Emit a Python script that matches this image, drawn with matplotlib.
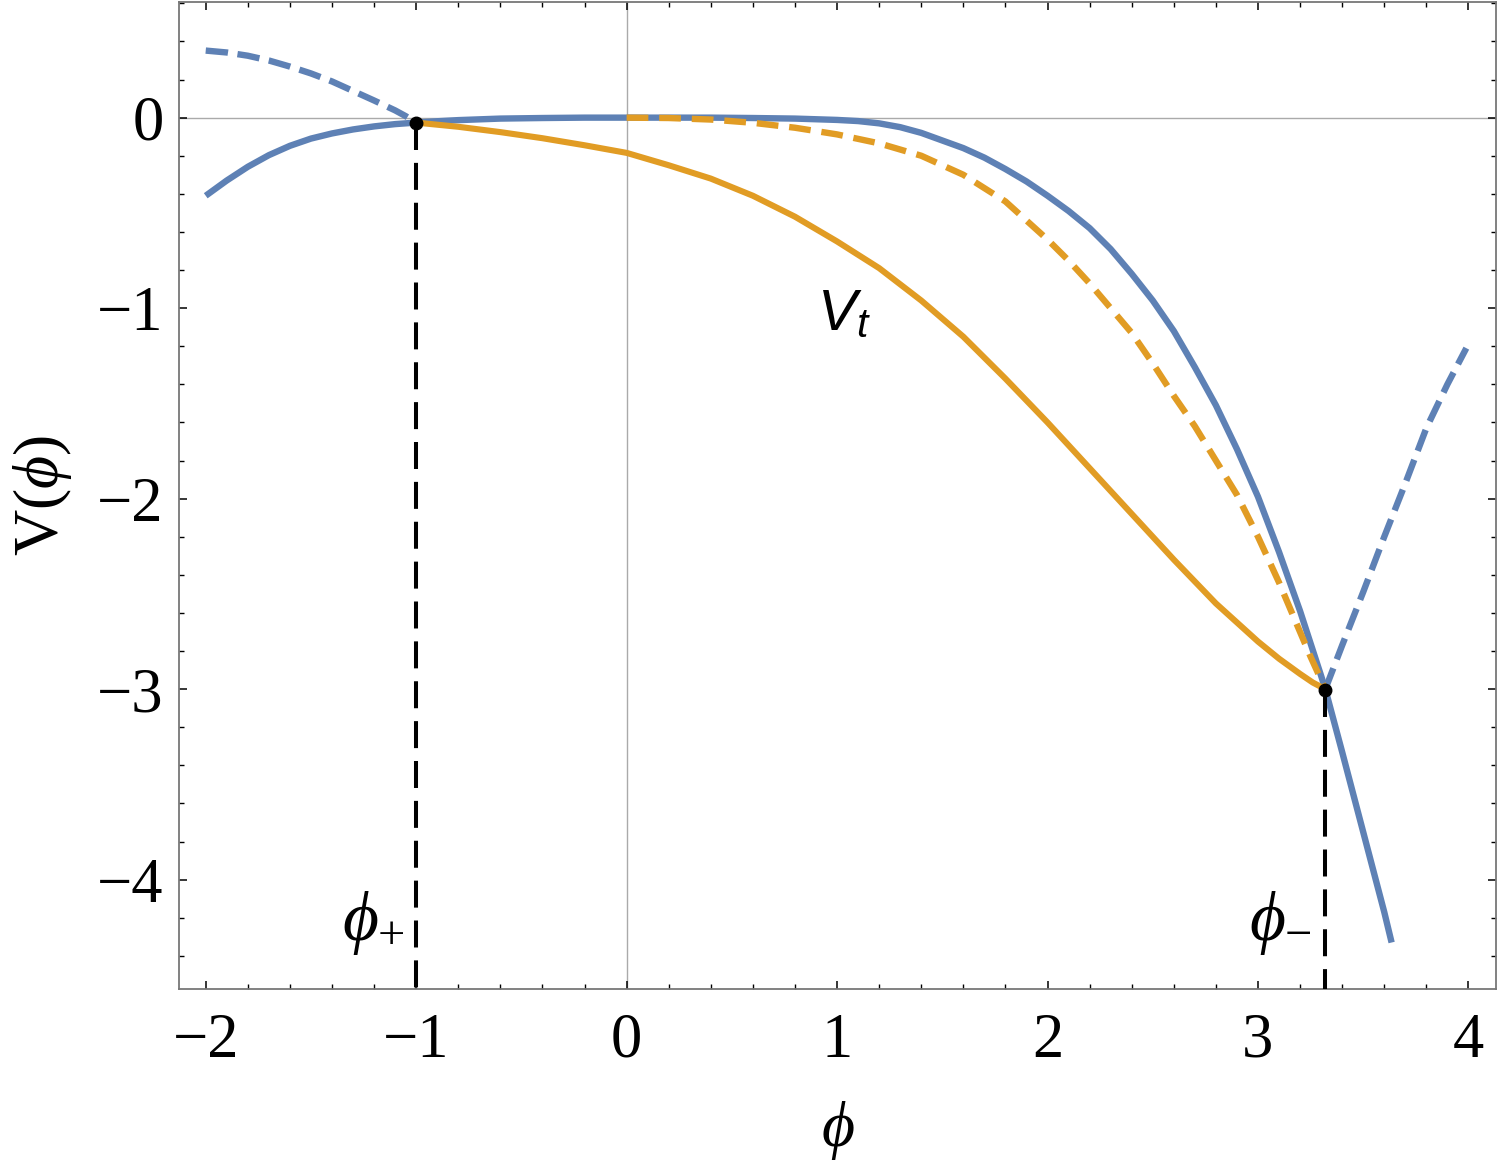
import matplotlib
matplotlib.use("Agg")
import matplotlib.pyplot as plt
from matplotlib.ticker import MultipleLocator

plt.rcParams['font.family'] = ['Liberation Serif', 'DejaVu Serif']
plt.rcParams['mathtext.fontset'] = 'custom'
plt.rcParams['mathtext.rm'] = 'Liberation Serif'
plt.rcParams['mathtext.it'] = 'Liberation Serif:italic'
plt.rcParams['mathtext.sf'] = 'Liberation Sans:italic'

# ---- data ----
blue_solid_x = [-2.0, -1.9, -1.8, -1.7, -1.6, -1.5, -1.4, -1.3, -1.2, -1.1, -1.0, -0.9, -0.8,
                -0.7, -0.6, -0.4, -0.2, 0.0, 0.2, 0.4, 0.6, 0.8, 1.0, 1.1, 1.2, 1.3, 1.4, 1.5,
                1.6, 1.7, 1.8, 1.9, 2.0, 2.1, 2.2, 2.3, 2.4, 2.5, 2.6, 2.7, 2.8, 2.9, 3.0, 3.1,
                3.2, 3.3, 3.32, 3.4, 3.5, 3.6, 3.635]
blue_solid_y = [-0.41, -0.33, -0.258, -0.197, -0.148, -0.11, -0.083, -0.062, -0.046, -0.034, -0.026,
                -0.019, -0.013, -0.009, -0.005, -0.002, 0.0, 0.0, 0.0, 0.0, -0.002, -0.005, -0.012,
                -0.018, -0.03, -0.05, -0.08, -0.12, -0.16, -0.21, -0.27, -0.335, -0.41, -0.49,
                -0.58, -0.69, -0.82, -0.96, -1.12, -1.31, -1.51, -1.74, -1.99, -2.28, -2.59,
                -2.93, -3.00, -3.33, -3.75, -4.17, -4.33]

blue_dash_left_x = [-2.0, -1.9, -1.8, -1.7, -1.6, -1.5, -1.4, -1.3, -1.2, -1.1, -1.05, -1.0]
blue_dash_left_y = [0.352, 0.342, 0.325, 0.30, 0.268, 0.232, 0.19, 0.14, 0.09, 0.038, 0.008, -0.026]

blue_dash_right_x = [3.32, 3.4, 3.5, 3.6, 3.7, 3.8, 3.9, 3.99]
blue_dash_right_y = [-3.00, -2.77, -2.49, -2.20, -1.92, -1.63, -1.40, -1.21]

orange_solid_x = [-1.0, -0.8, -0.6, -0.4, -0.2, 0.0, 0.2, 0.4, 0.6, 0.8, 1.0, 1.2, 1.4, 1.6,
                  1.8, 2.0, 2.2, 2.4, 2.6, 2.8, 3.0, 3.1, 3.2, 3.26, 3.32]
orange_solid_y = [-0.026, -0.048, -0.076, -0.108, -0.145, -0.185, -0.25, -0.32, -0.41, -0.52,
                  -0.65, -0.79, -0.96, -1.15, -1.37, -1.60, -1.84, -2.08, -2.32, -2.55, -2.75,
                  -2.84, -2.92, -2.965, -3.00]

orange_dash_x = [0.0, 0.2, 0.4, 0.6, 0.8, 1.0, 1.2, 1.4, 1.6, 1.8, 2.0, 2.1, 2.2, 2.3, 2.4,
                 2.5, 2.6, 2.7, 2.8, 2.9, 3.0, 3.1, 3.2, 3.25, 3.32]
orange_dash_y = [0.0, -0.002, -0.01, -0.027, -0.053, -0.088, -0.135, -0.2, -0.3, -0.44, -0.64,
                 -0.75, -0.87, -1.0, -1.13, -1.29, -1.46, -1.62, -1.80, -1.98, -2.20, -2.44,
                 -2.70, -2.83, -3.00]

phi_plus = (-1.00, -0.026)
phi_minus = (3.318, -3.005)

x_ticks = [-2, -1, 0, 1, 2, 3, 4]
y_ticks = [0, -1, -2, -3, -4]
xlabel = r'$\phi$'
ylabel = r'V($\phi$)'
label_vt = r'$\mathsf{V}_\mathsf{t}$'
label_plus = r'$\phi_{+}$'
label_minus = r'$\phi_{-}$'

BLUE = '#5E81B5'
ORANGE = '#E19C24'

fig = plt.figure(figsize=(15, 11.69), dpi=100)
W, H = 1500, 1169
ax = fig.add_axes([179 / W, 1 - 989 / H, (1496 - 179) / W, (989 - 2) / H])

ax.set_xlim(-2.127, 4.131)
ax.set_ylim(-4.574, 0.607)

ax.axhline(0, color='#aaaaaa', lw=1.0, zorder=1)
ax.axvline(0, color='#aaaaaa', lw=1.0, zorder=1)

ax.plot(blue_solid_x, blue_solid_y, color=BLUE, lw=4.6, solid_capstyle='butt', zorder=3)
ax.plot(blue_dash_left_x, blue_dash_left_y, color=BLUE, lw=4.6, dashes=(3.5, 1.5), zorder=3)
ax.plot(blue_dash_right_x, blue_dash_right_y, color=BLUE, lw=4.6, dashes=(3.5, 1.5), zorder=3)
ax.plot(orange_solid_x, orange_solid_y, color=ORANGE, lw=4.4, zorder=4)
ax.plot(orange_dash_x, orange_dash_y, color=ORANGE, lw=4.6, dashes=(3.4, 1.7), zorder=4)

ylo = ax.get_ylim()[0]
for (px, py) in (phi_plus, phi_minus):
    ax.plot([px, px], [py, ylo], color='black', lw=2.9, dashes=(6.7, 3.2), zorder=5)
    ax.plot([px], [py], 'o', color='black', ms=9, zorder=6)

ax.text(0.905, -1.114, label_vt, fontsize=42, ha='left', va='baseline', zorder=7)
ax.text(-1.055, -4.225, label_plus, fontsize=50, ha='right', va='center', zorder=7)
ax.text(3.255, -4.225, label_minus, fontsize=50, ha='right', va='center', zorder=7)

ax.set_xticks(x_ticks)
ax.set_yticks(y_ticks)
ax.xaxis.set_minor_locator(MultipleLocator(0.2))
ax.yaxis.set_minor_locator(MultipleLocator(0.2))
ax.tick_params(which='both', direction='in', top=True, right=True, color='black')
ax.tick_params(which='major', length=6, width=1.1)
ax.tick_params(which='minor', length=3.5, width=1.0)
ax.tick_params(axis='x', which='major', labelsize=45, pad=17)
ax.tick_params(axis='y', which='major', labelsize=45, pad=11)
for s in ax.spines.values():
    s.set_color('#777777')
    s.set_linewidth(1.3)

fig.text(838 / W, 1 - 1130 / H, xlabel, fontsize=46, ha='center', va='center')
fig.text(42 / W, 1 - 496 / H, ylabel, fontsize=46, ha='center', va='center', rotation=90)

fig.savefig('out.png', dpi=100, facecolor='white')
